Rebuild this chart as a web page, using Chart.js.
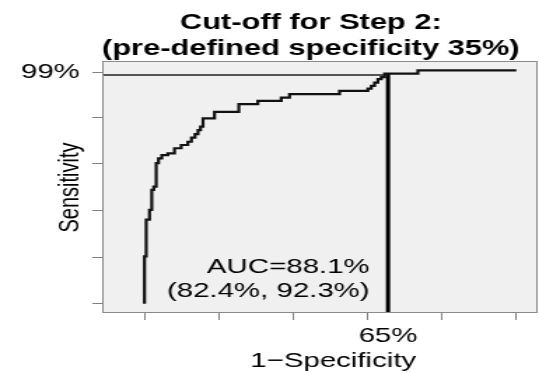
<!DOCTYPE html>
<html>
<head>
<meta charset="utf-8">
<script src="https://cdn.jsdelivr.net/npm/chart.js@4.4.1/dist/chart.umd.min.js"></script>
<style>
  html, body { margin: 0; padding: 0; background: #fff; }
  /* the original picture is stretched sideways, so the canvas is drawn narrow and widened by css */
  #rocChart { display: block; width: 539px; height: 373px; }
</style>
</head>
<body>
<canvas id="rocChart" width="385" height="373" style="width:539px;height:373px"></canvas>
<script>
// ROC curve (1-specificity, sensitivity)
const fpr = [0, 0, 0.0046, 0.0135, 0.0196, 0.025, 0.0315, 0.0377, 0.0465, 0.0627,
  0.0807, 0.0987, 0.1165, 0.1264, 0.1359, 0.144, 0.1507, 0.1574, 0.1883, 0.2537,
  0.3048, 0.3678, 0.3901, 0.5246, 0.6008, 0.6099, 0.6188, 0.6277, 0.6368, 0.6457,
  0.7353, 1.0];
const tpr = [0, 0.203, 0.36, 0.402, 0.488, 0.502, 0.602, 0.623, 0.637, 0.644,
  0.666, 0.68, 0.694, 0.712, 0.727, 0.744, 0.759, 0.794, 0.822, 0.855,
  0.869, 0.883, 0.898, 0.912, 0.922, 0.933, 0.947, 0.962, 0.971, 0.986,
  1.0, 1.0];

const cutoffFpr = 0.655;
const cutoffSens = 0.98;

const xTicks = [0, 0.2, 0.4, 0.6, 0.8, 1.0];
const yTicks = [0, 0.2, 0.4, 0.6, 0.8, 0.99];
const yTickLabels = ['', '', '', '', '', '99%'];
const cutoffLabel = '65%';

const titleLines = ['Cut-off for Step 2:', '(pre-defined specificity 35%)'];
const aucLines = ['AUC=88.1%', '(82.4%, 92.3%)'];
const xTitle = '1\u2212Specificity';
const yTitle = 'Sensitivity';

const xMin = -0.1137, xMax = 1.0573;
const yMin = -0.04, yMax = 1.04;

const font = '"Liberation Sans", Arial, Helvetica, sans-serif';

// curve height where the cutoff line meets it
let cutoffTop = 0;
for (let i = 0; i < fpr.length; i++) {
  if (fpr[i] <= cutoffFpr) cutoffTop = tpr[i];
}

const rocData = fpr.map((x, i) => ({ x: x, y: tpr[i] }));

const panelPlugin = {
  id: 'panel',
  beforeDraw(chart) {
    const { ctx, chartArea: a } = chart;
    ctx.save();
    ctx.fillStyle = '#ffffff';
    ctx.fillRect(0, 0, chart.width, chart.height);
    ctx.fillStyle = '#f0f0f0';
    ctx.fillRect(a.left, a.top, a.right - a.left, a.bottom - a.top);
    ctx.restore();
  },
  afterDraw(chart) {
    const { ctx, chartArea: a } = chart;
    const xs = chart.scales.x;
    ctx.save();
    ctx.strokeStyle = '#8a8a8a';
    ctx.lineWidth = 1;
    ctx.strokeRect(a.left + 0.5, a.top + 0.5, a.right - a.left - 1, a.bottom - a.top - 1);

    ctx.fillStyle = '#000';
    ctx.textAlign = 'center';
    ctx.textBaseline = 'alphabetic';
    ctx.font = 'bold 22px ' + font;
    ctx.fillText(titleLines[0], 222, 29);
    ctx.fillText(titleLines[1], 222, 55);

    ctx.font = '21px ' + font;
    ctx.fillText(cutoffLabel, xs.getPixelForValue(cutoffFpr), 342);
    ctx.fillText(xTitle, 238, 367);

    ctx.save();
    ctx.translate(56, 187.5);
    ctx.rotate(-Math.PI / 2);
    ctx.font = '20px ' + font;
    ctx.fillText(yTitle, 0, 0);
    ctx.restore();

    ctx.textAlign = 'right';
    ctx.font = '21px ' + font;
    ctx.fillText(aucLines[0], 264, 273);
    ctx.fillText(aucLines[1], 264, 297);
    ctx.restore();
  }
};

const config = {
  type: 'line',
  data: {
    datasets: [
      {
        label: 'ROC',
        data: rocData,
        stepped: 'before',
        borderColor: '#111',
        borderWidth: 2.2,
        pointRadius: 0,
        fill: false,
      },
      {
        label: 'sensitivity line',
        data: [{ x: xMin, y: cutoffSens }, { x: cutoffFpr, y: cutoffSens }],
        borderColor: '#222',
        borderWidth: 1.5,
        pointRadius: 0,
        fill: false,
      },
      {
        label: 'cutoff line',
        data: [{ x: cutoffFpr, y: yMin }, { x: cutoffFpr, y: cutoffTop }],
        borderColor: '#000',
        borderWidth: 3,
        pointRadius: 0,
        fill: false,
      },
    ],
  },
  options: {
    responsive: false,
    animation: false,
    devicePixelRatio: 1,
    layout: { padding: { top: 61, right: 1, left: 0, bottom: 0 } },
    plugins: {
      legend: { display: false },
      tooltip: { enabled: false },
    },
    scales: {
      x: {
        type: 'linear',
        min: xMin,
        max: xMax,
        afterBuildTicks: (axis) => { axis.ticks = xTicks.map(v => ({ value: v })); },
        afterFit: (axis) => { axis.height = 60; },
        ticks: { callback: () => '', padding: 0 },
        grid: { drawOnChartArea: false, drawTicks: true, tickLength: 7, color: '#808080', lineWidth: 1 },
        border: { display: false },
      },
      y: {
        type: 'linear',
        min: yMin,
        max: yMax,
        afterBuildTicks: (axis) => { axis.ticks = yTicks.map(v => ({ value: v })); },
        afterFit: (axis) => { axis.width = 73; },
        ticks: {
          callback: (value, index) => yTickLabels[index],
          padding: 9,
          color: '#000',
          font: { family: font, size: 21 },
        },
        grid: { drawOnChartArea: false, drawTicks: true, tickLength: 7, color: '#808080', lineWidth: 1 },
        border: { display: false },
      },
    },
  },
  plugins: [panelPlugin],
};

var rocChart = new Chart(document.getElementById('rocChart'), config);
</script>
</body>
</html>
